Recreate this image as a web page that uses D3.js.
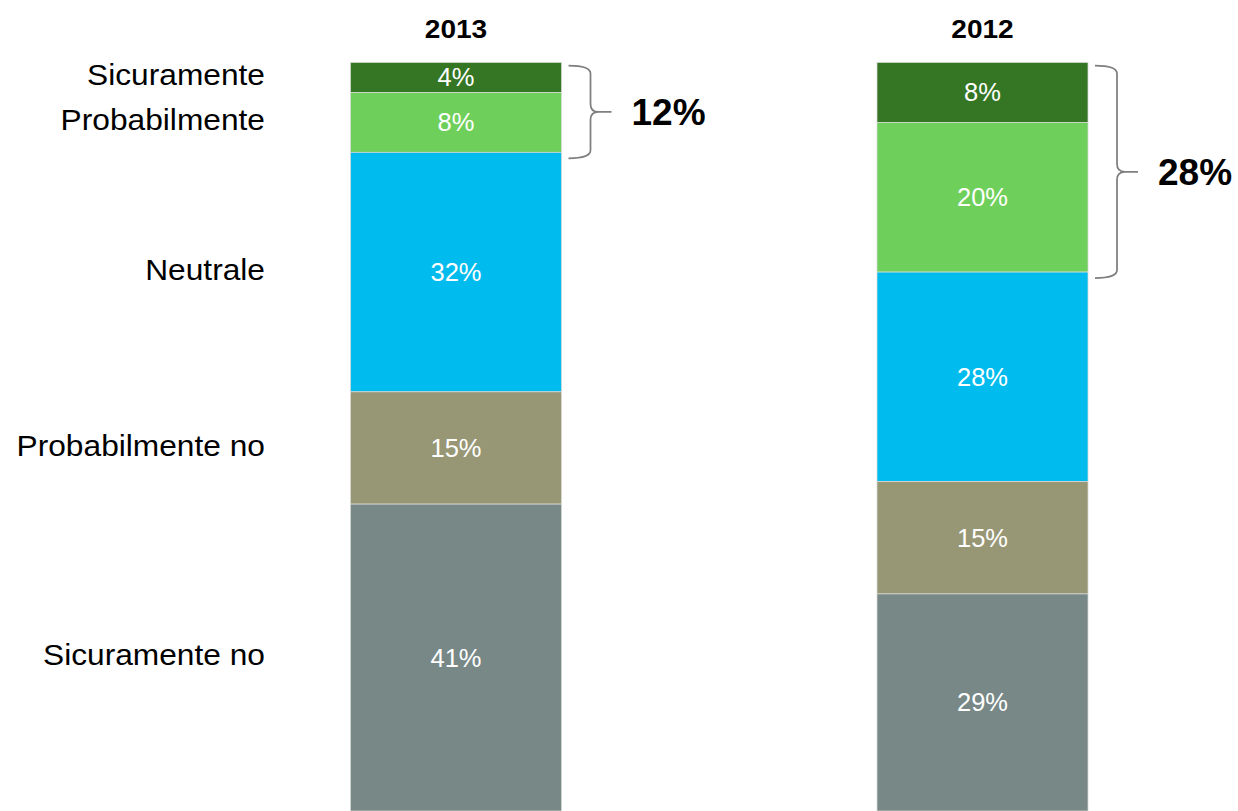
<!DOCTYPE html>
<html>
<head>
<meta charset="utf-8">
<script src="https://cdn.jsdelivr.net/npm/d3@7"></script>
<style>
  html, body { margin: 0; padding: 0; background: #ffffff; }
  svg { display: block; font-family: "Liberation Sans", Arial, sans-serif; }
</style>
</head>
<body>
<svg id="chart" width="1238" height="811"></svg>
<script>
// Survey answers, stacked from the top category down
const years = ["2013", "2012"];
const categories = ["Sicuramente", "Probabilmente", "Neutrale", "Probabilmente no", "Sicuramente no"];
const values2013 = [4, 8, 32, 15, 41];
const values2012 = [8, 20, 28, 15, 29];
const positiveTotals = [12, 28];   // Sicuramente + Probabilmente

const seriesByYear = { "2013": values2013, "2012": values2012 };
const totalsByYear = { "2013": positiveTotals[0], "2012": positiveTotals[1] };

const colors = d3.scaleOrdinal()
  .domain(categories)
  .range(["#357624", "#6fcf5b", "#00bcee", "#989775", "#778887"]);

const svg = d3.select("#chart");

const x = d3.scalePoint().domain(years).range([456, 982.5]);
const barW = 211;
const y = d3.scaleLinear().domain([0, 100]).range([811, 62.5]);

// build stacked segments (top category first)
function segments(year) {
  const vals = seriesByYear[year];
  let acc = 0;
  return categories.map((c, i) => {
    const s = { year, cat: c, value: vals[i], from: acc, to: acc + vals[i] };
    acc += vals[i];
    return s;
  });
}

// text helper with optional horizontal stretch
function stretchedText(parent, tx, ty, str, opts) {
  const g = parent.append("g")
    .attr("transform", `translate(${tx},${ty}) scale(${opts.sx || 1},1)`);
  g.append("text")
    .attr("x", 0).attr("y", 0)
    .attr("text-anchor", opts.anchor || "middle")
    .attr("dominant-baseline", opts.baseline || "alphabetic")
    .attr("font-size", opts.size)
    .attr("font-weight", opts.weight || "normal")
    .attr("fill", opts.fill || "#000")
    .text(str);
  return g;
}

const bars = svg.append("g");
years.forEach(year => {
  const segs = segments(year);
  const cx = x(year);
  const right = cx + barW / 2;
  const g = bars.append("g");
  g.selectAll("rect").data(segs).join("rect")
    .attr("x", cx - barW / 2)
    .attr("width", barW)
    .attr("y", d => y(100 - d.from))
    .attr("height", d => y(100 - d.to) - y(100 - d.from))
    .attr("fill", d => colors(d.cat))
    .attr("stroke", "#d9d9d9")
    .attr("stroke-width", 0.75);

  segs.forEach(d => {
    const ym = (y(100 - d.from) + y(100 - d.to)) / 2;
    stretchedText(g, cx, ym, d.value + "%", { size: 25.5, fill: "#ffffff", baseline: "central" });
  });

  // year heading
  stretchedText(svg, cx, 38, year, { size: 25.5, weight: "bold", sx: 1.1 });

  // brace around the two positive answers
  const top = y(100 - segs[0].from);
  const bottom = y(100 - segs[1].to);
  const y0 = top + 3, y1 = bottom + 6, ym = (y0 + y1) / 2;
  const x0 = right + 7, xv = right + 29, xt = right + 50, r = 8;
  const path = d3.path();
  path.moveTo(x0, y0);
  path.quadraticCurveTo(xv, y0, xv, y0 + r);
  path.lineTo(xv, ym - r);
  path.quadraticCurveTo(xv, ym, xv + r, ym);
  path.lineTo(xt, ym);
  path.moveTo(xv + r, ym);
  path.quadraticCurveTo(xv, ym, xv, ym + r);
  path.lineTo(xv, y1 - r);
  path.quadraticCurveTo(xv, y1, x0, y1);
  svg.append("path")
    .attr("d", path.toString())
    .attr("fill", "none")
    .attr("stroke", "#7f7f7f")
    .attr("stroke-width", 1.75);

  stretchedText(svg, right + 70, ym + 1, totalsByYear[year] + "%",
    { size: 37, weight: "bold", anchor: "start", baseline: "central" });
});

// category names, aligned with the 2013 segments
const catLabels = svg.append("g");
segments(years[0]).forEach(d => {
  const ym = (y(100 - d.from) + y(100 - d.to)) / 2;
  stretchedText(catLabels, 265, ym - 3, d.cat,
    { size: 29.5, anchor: "end", baseline: "central", sx: 1.075 });
});
</script>
</body>
</html>
